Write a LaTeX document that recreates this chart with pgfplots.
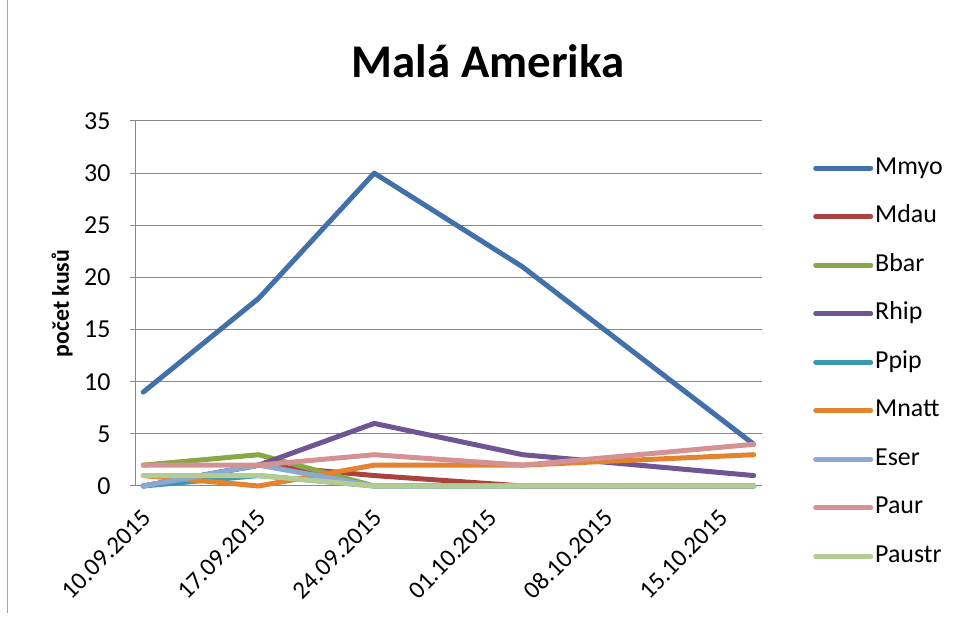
\documentclass[border=0pt]{standalone}
\usepackage{pgfplots}
\pgfplotsset{compat=1.18}
\usepackage{fontspec}
\setmainfont{Carlito}
\definecolor{cMmyo}{HTML}{4170AA}
\definecolor{cMdau}{HTML}{A9433F}
\definecolor{cBbar}{HTML}{87A845}
\definecolor{cRhip}{HTML}{6F5594}
\definecolor{cPpip}{HTML}{3C97B3}
\definecolor{cMnatt}{HTML}{E3822F}
\definecolor{cEser}{HTML}{8CA9D3}
\definecolor{cPaur}{HTML}{D49292}
\definecolor{cPaustr}{HTML}{B3CC93}
\definecolor{gridgray}{HTML}{898989}
\begin{document}
\begin{tikzpicture}[x=1bp,y=1bp]
\path[use as bounding box] (0,0) rectangle (956,623);
\draw[gray!70, line width=0.8bp] (7,623) -- (7,10);
\node[font=\fontsize{47}{50}\selectfont\bfseries] at (488,562) {Malá Amerika};
\begin{axis}[
  at={(135bp,137bp)}, anchor=south west,
  width=627bp, height=365bp, scale only axis,
  xmin=-0.5, xmax=37.5, ymin=0, ymax=35,
  xtick={0,7,14,21,28,35},
  xticklabels={10.09.2015,17.09.2015,24.09.2015,01.10.2015,08.10.2015,15.10.2015},
  xticklabel style={rotate=45, anchor=east, font=\fontsize{25}{27}\selectfont, inner sep=1bp, xshift=-13bp, yshift=-18.5bp},
  ytick={0,5,...,35},
  yticklabel style={font=\fontsize{26}{28}\selectfont, xshift=-16bp},
  /pgf/number format/assume math mode=true,
  axis line style={gridgray, line width=1bp},
  axis x line*=bottom, axis y line*=left,
  ymajorgrids, grid style={gridgray, line width=1bp},
  tick style={gridgray, line width=1bp},
  tick align=outside, major tick length=5bp,
  xtick style={draw=none},
  ylabel={\bfseries počet kusů},
  ylabel style={font=\fontsize{24}{26}\selectfont, at={(axis description cs:0,0.5)}, anchor=center, yshift=73bp},
  every axis plot/.append style={line width=5bp, line join=round, line cap=round},
  legend cell align=left,
  legend style={at={(1,1)}, anchor=north west, xshift=51bp, yshift=-36bp, draw=none, fill=none,
    inner sep=0pt, font=\fontsize{26}{28}\selectfont,
    nodes={inner sep=0pt, text height=17bp, text depth=5bp}, row sep=26.5bp,
    /tikz/every odd column/.append style={column sep=2bp}},
  legend image code/.code={\draw[#1, line width=5bp] (0bp,0bp) -- (55bp,0bp);},
  clip=false,
]
\addplot[cMmyo] coordinates {(0,9) (7,18) (14,30) (23,21) (37,4)};
\addlegendentry{Mmyo}
\addplot[cMdau] coordinates {(0,0) (7,2) (14,1) (23,0) (37,0)};
\addlegendentry{Mdau}
\addplot[cBbar] coordinates {(0,2) (7,3) (14,0) (23,0) (37,0)};
\addlegendentry{Bbar}
\addplot[cRhip] coordinates {(0,0) (7,2) (14,6) (23,3) (37,1)};
\addlegendentry{Rhip}
\addplot[cPpip] coordinates {(0,0) (7,1) (14,0) (23,0) (37,0)};
\addlegendentry{Ppip}
\addplot[cMnatt] coordinates {(0,1) (7,0) (14,2) (23,2) (37,3)};
\addlegendentry{Mnatt}
\addplot[cEser] coordinates {(0,0) (7,2) (14,0) (23,0) (37,0)};
\addlegendentry{Eser}
\addplot[cPaur] coordinates {(0,2) (7,2) (14,3) (23,2) (37,4)};
\addlegendentry{Paur}
\addplot[cPaustr] coordinates {(0,1) (7,1) (14,0) (23,0) (37,0)};
\addlegendentry{Paustr}
\end{axis}
\end{tikzpicture}
\end{document}
